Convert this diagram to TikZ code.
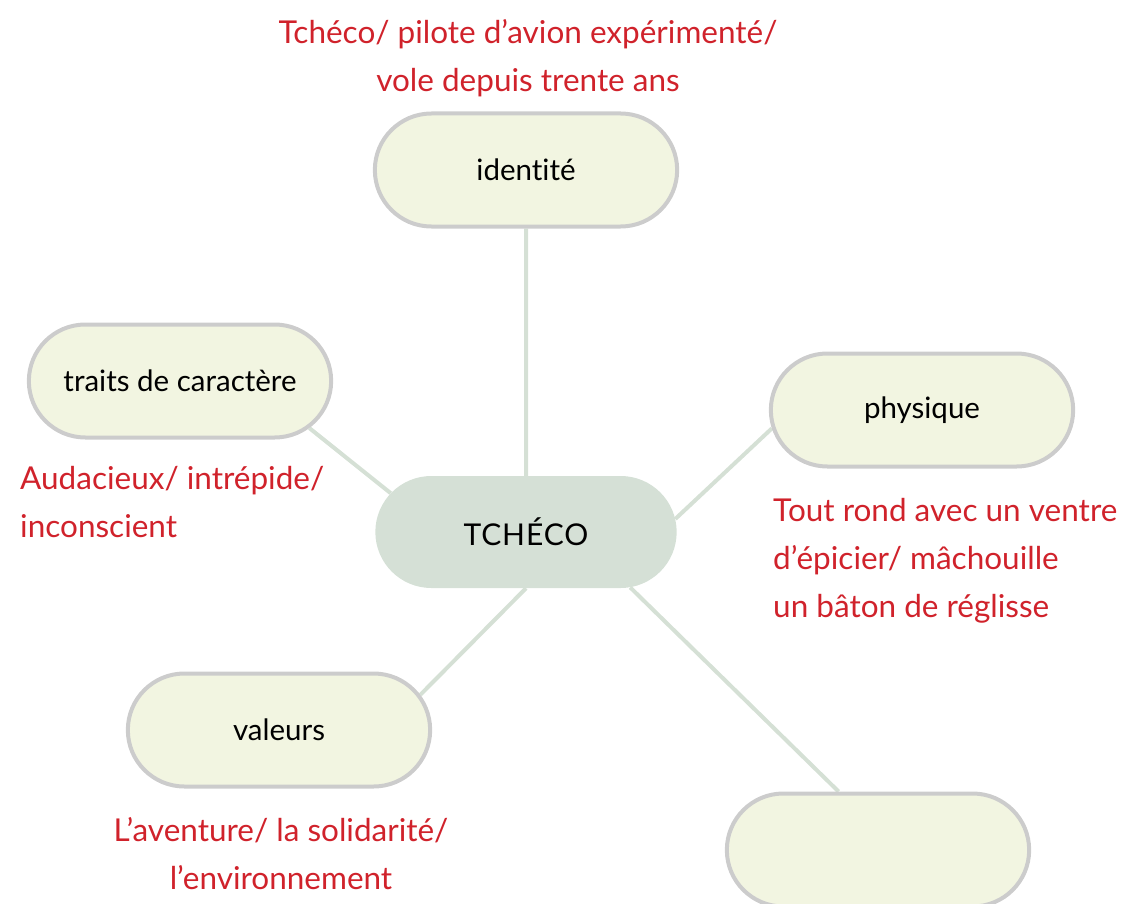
\documentclass[tikz,border=0pt]{standalone}
\usepackage{fontspec}
\setmainfont{Lato}[Ligatures=CommonOff]
\usetikzlibrary{shapes.misc,backgrounds}
\definecolor{leaffill}{HTML}{F2F5E1}
\definecolor{leafline}{HTML}{CCCCCC}
\definecolor{corefill}{HTML}{D5E0D6}
\definecolor{linkline}{HTML}{D5E0D5}
\definecolor{notered}{HTML}{D0222B}

\begin{document}
\begin{tikzpicture}[x=1pt,y=-1pt,
    leaf/.style={rounded rectangle, draw=leafline, line width=4pt, fill=leaffill,
      minimum width=309pt, minimum height=113pt, font=\fontsize{29.5}{34}\selectfont},
    core/.style={rounded rectangle, fill=corefill, minimum width=308pt,
      minimum height=112pt, font=\fontsize{30}{34}\selectfont\addfontfeature{LetterSpace=3}},
    link/.style={draw=linkline, line width=4pt},
    note/.style={text=notered, inner sep=0pt, font=\fontsize{31.5}{48}\selectfont}]

    \useasboundingbox (0,0) rectangle (1126,904);

    \node[core] (tcheco) at (526,532) {TCH\'ECO};
    \node[leaf] (identite) at (526,170) {identit\'e};
    \node[leaf] (traits) at (180,381) {traits de caract\`ere};
    \node[leaf] (physique) at (922,410) {physique};
    \node[leaf] (valeurs) at (279,730) {valeurs};
    \node[leaf] (vide) at (878,850) {};

    \node[note, anchor=base, align=center] (n1) at (528,92)
      {Tch\'eco/ pilote d’avion exp\'eriment\'e/\\vole depuis trente ans};
    \node[note, anchor=base west, align=left] (n2) at (20,537)
      {Audacieux/ intr\'epide/\\inconscient};
    \node[note, anchor=base west, align=left] (n3) at (773,617)
      {Tout rond avec un ventre\\d’\'epicier/ m\^achouille\\un b\^aton de r\'eglisse};
    \node[note, anchor=base, align=center] (n4) at (281,889)
      {L’aventure/ la solidarit\'e/\\l’environnement};

    % liens vers le centre
    \begin{scope}[on background layer]
      \draw[link] (identite) -- (tcheco);
      \draw[link] (traits.-20) -- (tcheco.164);
      \draw[link] (physique.-173) -- (tcheco.5);
      \draw[link] (valeurs.14) -- (tcheco.-90);
      \draw[link] (tcheco.-28) -- (vide.124);
    \end{scope}
\end{tikzpicture}
\end{document}
